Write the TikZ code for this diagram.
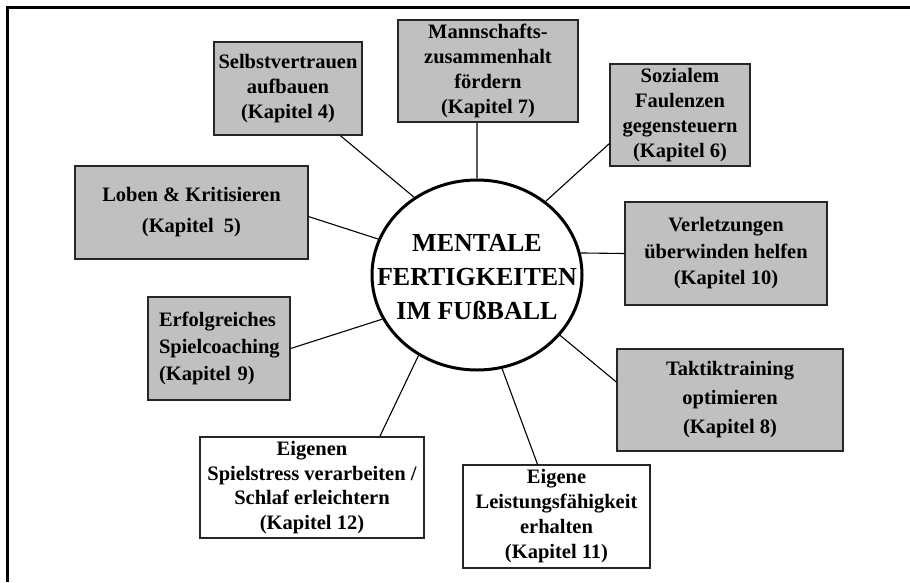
\documentclass[tikz,border=0pt]{standalone}
\usepackage{fontspec}
\setmainfont{Liberation Serif}
\usetikzlibrary{shapes.geometric}
\definecolor{boxgray}{RGB}{192,192,192}
\begin{document}
\begin{tikzpicture}[x=1pt,y=-1pt,
  box/.style={draw=black!85, line width=1.3pt, fill=boxgray, inner sep=0pt, align=center,
    font=\bfseries\fontsize{20.5}{25}\selectfont},
  wbox/.style={box, fill=white},
  conn/.style={line width=1.1pt, black}]
\useasboundingbox (0,0) rectangle (910,582);
\fill[white] (0,0) rectangle (910,582);
% frame
\draw[line width=2.8pt] (7.3,582) -- (7.3,7.3) -- (910,7.3);
% centre
\node[ellipse, draw, line width=3pt, fill=white, minimum width=210, minimum height=190, inner sep=0pt] (c) at (477,275) {};
\node[align=center, inner sep=0pt, font=\bfseries\fontsize{26}{34}\selectfont] (ct) at (477,277)
  {MENTALE\\FERTIGKEITEN\\IM FUßBALL};
% boxes
\node[box, minimum width=148, minimum height=93] (sel) at (288,88.5)
  {Selbstvertrauen\\aufbauen\\(Kapitel 4)};
\node[box, minimum width=180, minimum height=102] (mann) at (488,71)
  {Mannschafts-\\zusammenhalt\\fördern\\(Kapitel 7)};
\node[box, minimum width=140, minimum height=102] (soz) at (680,115)
  {Sozialem\\Faulenzen\\gegensteuern\\(Kapitel 6)};
\node[box, minimum width=202, minimum height=103, font=\bfseries\fontsize{20.5}{26.5}\selectfont] (verl) at (726,253.5)
  {Verletzungen\\überwinden helfen\\(Kapitel 10)};
\node[box, minimum width=233, minimum height=93, font=\bfseries\fontsize{20.5}{31}\selectfont] (lob) at (191.5,212.5)
  {Loben \& Kritisieren\\(Kapitel\ \ 5)};
\node[box, minimum width=142, minimum height=103, align=left, text width=120,
  font=\bfseries\fontsize{20.5}{27}\selectfont] (erf) at (219,348.5)
  {Erfolgreiches\\Spielcoaching\\(Kapitel 9)};
\node[wbox, minimum width=224, minimum height=101, font=\bfseries\fontsize{20.5}{24.5}\selectfont] (eig12) at (312,487.5)
  {Eigenen\\Spielstress verarbeiten /\\Schlaf erleichtern\\(Kapitel 12)};
\node[wbox, minimum width=187, minimum height=103] (eig11) at (556.5,516.5)
  {Eigene\\Leistungsfähigkeit\\erhalten\\(Kapitel 11)};
\node[box, minimum width=226, minimum height=102, font=\bfseries\fontsize{20.5}{29}\selectfont] (tak) at (730,400)
  {Taktiktraining\\optimieren\\(Kapitel 8)};
% connectors
\draw[conn] (sel.-42.4) -- (c.129.1);
\draw[conn] (mann.258.9) -- (c.90);
\draw[conn] (soz.202.5) -- (c.47.5);
\draw[conn] (verl.west) -- (c.12.3);
\draw[conn] (lob.-2.2) -- (c.160.4);
\draw[conn] (erf.east) -- (c.205);
\draw[conn] (eig12.37.8) -- (c.234.9);
\draw[conn] (eig11.110.7) -- (c.285.2);
\draw[conn] (tak.171.9) -- (c.324.3);
\end{tikzpicture}
\end{document}
